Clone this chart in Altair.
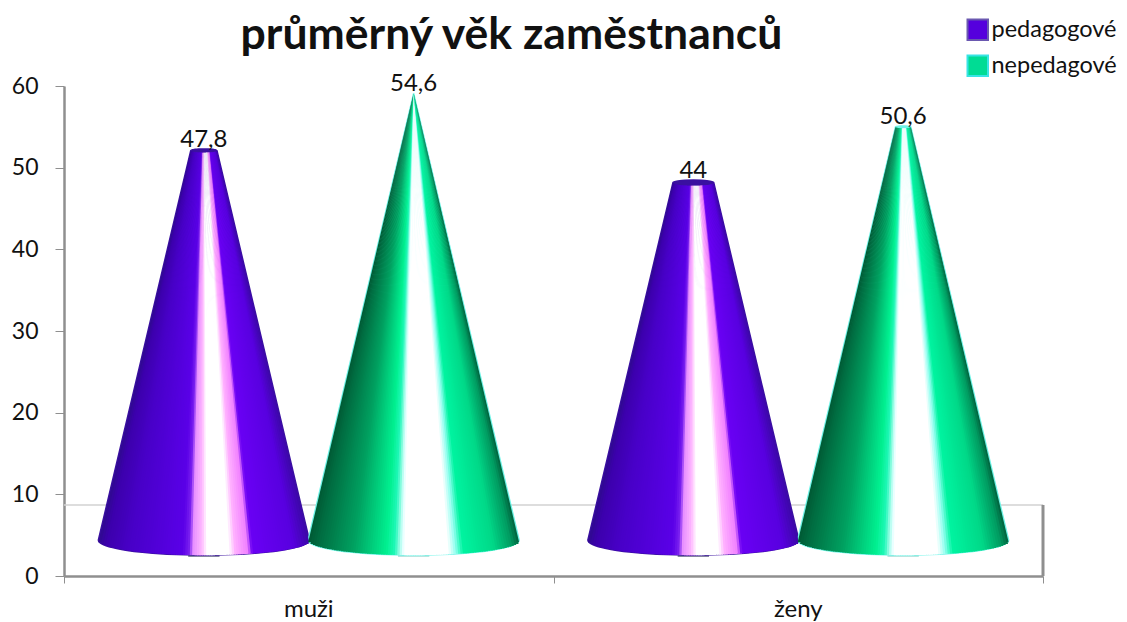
import altair as alt
import pandas as pd

groups = ["muži", "ženy"]
series = ["pedagogové", "nepedagové"]
values_ped = [47.8, 44.0]
values_nep = [54.6, 50.6]
value_labels_ped = ["47,8", "44"]
value_labels_nep = ["54,6", "50,6"]
y_ticks = [0, 10, 20, 30, 40, 50, 60]
x_ticks = [0, 1, 2]
wall_level = 8.7

stops = {
    "pedagogové": [(-1, "#2f0a90"), (-0.93, "#3c00ac"), (-0.7, "#4800c8"), (-0.2, "#5a00e8"), (-0.14, "#7a20f0"),
                   (-0.1, "#e890ff"), (-0.02, "#ffb8ff"), (0.03, "#ffffff"), (0.24, "#ffffff"), (0.3, "#ffb0ff"),
                   (0.42, "#f080ff"), (0.46, "#6a00f4"), (0.85, "#5800e0"), (1, "#3c08a8")],
    "nepedagové": [(-1, "#005a34"), (-0.9, "#006e42"), (-0.58, "#00a060"), (-0.26, "#00f090"), (-0.18, "#20f8b8"),
                   (-0.11, "#e0ffff"), (-0.08, "#ffffff"), (0.33, "#ffffff"), (0.4, "#90fff0"), (0.47, "#00f4a0"),
                   (0.76, "#00d888"), (0.93, "#009a60"), (1, "#00603c")],
}
edge = {"pedagogové": "#3a10a0", "nepedagové": "#70f4e8"}
foot = {"pedagogové": "#5a5a80", "nepedagové": "#a0dcd4"}
swatch_fill = ["#5500dd", "#00dc94"]
swatch_stroke = ["#6a58b0", "#38e4e4"]

R = 0.2155          # cone base half-width, in group units
B = 4.4             # base centre level, in axis units
b = 1.85            # base ellipse half-height
lift = 4.5          # 3-D lift of a value above the axis
offsets = {"pedagogové": 2 / 7, "nepedagové": 5 / 7}
vmax = max(values_ped + values_nep)
N = 90


def hex2rgb(h):
    return [int(h[i:i + 2], 16) for i in (1, 3, 5)]


def shade(s, u):
    st = stops[s]
    for (u0, c0), (u1, c1) in zip(st, st[1:]):
        if u0 <= u <= u1:
            t = (u - u0) / (u1 - u0)
            a, c = hex2rgb(c0), hex2rgb(c1)
            return "#%02x%02x%02x" % tuple(round(p + (q - p) * t) for p, q in zip(a, c))
    return st[-1][1]


slices, sil, labels, points, feet = [], [], [], [], []
for s, vals, labs in [("pedagogové", values_ped, value_labels_ped), ("nepedagové", values_nep, value_labels_nep)]:
    for g, (v, lab) in enumerate(zip(vals, labs)):
        cx = g + offsets[s]
        frac = 1 - v / vmax
        rt = R * frac
        bt = b * frac
        T = v + lift
        Tc = T - bt
        cid = f"{s}{g}"
        for i in range(N):
            u0 = -1 + 2 * i / N
            u1 = -1 + 2 * (i + 1) / N
            um = (u0 + u1) / 2
            ue = min(1, u1 + 1.5 / N)
            arc = (1 - um * um) ** 0.5
            sid = f"{cid}-{i:03d}"
            slices.append(dict(sid=sid, c=shade(s, um), y=Tc - bt * arc,
                               x=cx + u0 * rt, x2=cx + ue * rt))
            slices.append(dict(sid=sid, c=shade(s, um), y=B - b * arc,
                               x=cx + u0 * R, x2=cx + ue * R))
        rows = []
        for k in range(13):
            t = k / 12
            rows.append((T - bt * t, rt * (1 - (1 - t) ** 2) ** 0.5))
        rows.append((B, R))
        for k in range(1, 17):
            t = k / 16
            rows.append((B - b * t, R * (1 - t * t) ** 0.5))
        for y, r in rows:
            sil.append(dict(cid=cid, y=y, x=cx - r, x2=cx + r, edge=edge[s]))
        labels.append(dict(x=cx, y=T, text=lab))
        points.append(dict(x=cx, y=(T + B) / 2, serie=s))
        feet.append(dict(x=cx - 0.032, x2=cx + 0.032, y=B - b - 0.1, c=foot[s]))

W, H = 979, 490
xs = alt.Scale(domain=[0, 2], nice=False, zero=False)
ys = alt.Scale(domain=[0, 60], nice=False)
GRAY = "#8f8f8f"
legend_opts = dict(title=None, orient="none", legendX=902, legendY=-68, symbolType="square",
                   symbolSize=420, symbolStrokeWidth=2, labelFont="Lato", labelFontSize=23.5,
                   labelColor="#111111", rowPadding=7, labelOffset=2, labelLimit=200)

legend_layer = alt.Chart(pd.DataFrame(points)).mark_point(filled=True, size=4, opacity=1, strokeWidth=2).encode(
    x=alt.X("x:Q", scale=xs, axis=alt.Axis(values=x_ticks, labels=False, title=None, grid=False, domainColor=GRAY,
                                           domainWidth=2.5, tickColor=GRAY, tickSize=7, tickWidth=1)),
    y=alt.Y("y:Q", scale=ys, axis=alt.Axis(values=y_ticks, title=None, grid=False, domainColor=GRAY, domainWidth=2.5,
                                           tickColor=GRAY, tickSize=9, tickWidth=1, labelFont="Lato", labelFontSize=23,
                                           labelColor="#111111", labelPadding=17)),
    fill=alt.Fill("serie:N", scale=alt.Scale(domain=series, range=swatch_fill), legend=alt.Legend(**legend_opts)),
    stroke=alt.Stroke("serie:N", scale=alt.Scale(domain=series, range=swatch_stroke), legend=alt.Legend(**legend_opts)),
)

wall_df = pd.DataFrame({"x": [0], "x2": [2], "y": [wall_level], "y0": [0]})
back_wall = alt.Chart(wall_df).mark_rule(color="#d2d2d2", strokeWidth=1.5).encode(
    x=alt.X("x:Q", scale=xs), x2="x2:Q", y=alt.Y("y:Q", scale=ys))
side_wall = alt.Chart(wall_df).mark_rule(color=GRAY, strokeWidth=3).encode(
    x=alt.X("x2:Q", scale=xs), y=alt.Y("y0:Q", scale=ys), y2="y:Q")

foot_marks = alt.Chart(pd.DataFrame(feet)).mark_rule(strokeWidth=1.5).encode(
    x=alt.X("x:Q", scale=xs), x2="x2:Q", y=alt.Y("y:Q", scale=ys), color=alt.Color("c:N", scale=None))

silhouette = alt.Chart(pd.DataFrame(sil)).mark_area(orient="horizontal", strokeWidth=1.5, interpolate="linear").encode(
    x=alt.X("x:Q", scale=xs), x2="x2:Q", y=alt.Y("y:Q", scale=ys),
    detail="cid:N",
    color=alt.Color("edge:N", scale=None),
    stroke=alt.Stroke("edge:N", scale=None),
)

cones = alt.Chart(pd.DataFrame(slices)).mark_area(orient="horizontal").encode(
    x=alt.X("x:Q", scale=xs), x2="x2:Q", y=alt.Y("y:Q", scale=ys),
    detail="sid:N",
    color=alt.Color("c:N", scale=None),
)

value_text = alt.Chart(pd.DataFrame(labels)).mark_text(font="Lato", fontSize=24, color="#111111", dy=-9).encode(
    x=alt.X("x:Q", scale=xs), y=alt.Y("y:Q", scale=ys), text="text:N")

cat_df = pd.DataFrame({"x": [0.5, 1.5], "t": groups})
cat_text = alt.Chart(cat_df).mark_text(font="Lato", fontSize=24, color="#111111", baseline="alphabetic").encode(
    x=alt.X("x:Q", scale=xs), y=alt.value(531), text="t:N")

chart = alt.layer(legend_layer, back_wall, side_wall, foot_marks, silhouette, cones, value_text, cat_text).properties(
    width=W, height=H,
    title=alt.TitleParams("průměrný věk zaměstnanců", font="Lato", fontSize=44.5, fontWeight="bold", color="#111111",
                          anchor="middle", dx=-42, offset=-40),
    padding={"left": 56, "top": 78, "right": 76, "bottom": 46},
    autosize=alt.AutoSizeParams(type="none"),
    background="white",
).configure_view(stroke=None)

chart.save("out.html", embed_options={"renderer": "svg", "actions": False})
